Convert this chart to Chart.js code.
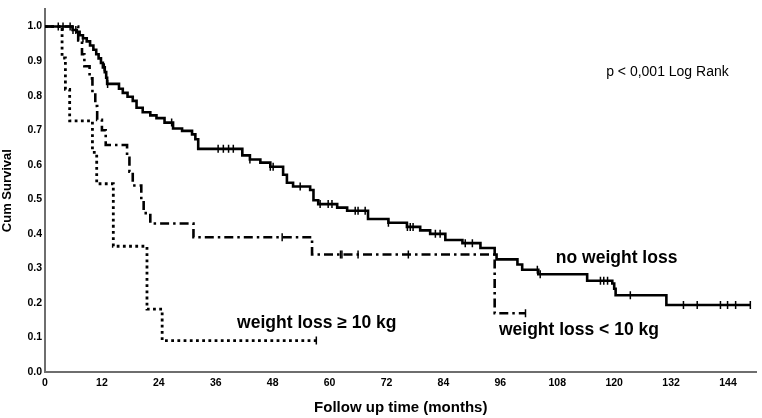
<!DOCTYPE html>
<html>
<head>
<meta charset="utf-8">
<script src="https://cdn.jsdelivr.net/npm/chart.js@4.4.1/dist/chart.umd.min.js"></script>
<style>
html,body{margin:0;padding:0;background:#fff;}
#wrap{width:762px;height:418px;}
</style>
</head>
<body>
<div id="wrap"><canvas id="c" width="762" height="418"></canvas></div>
<script>
// ---- Data ----
const xTicks = [0,12,24,36,48,60,72,84,96,108,120,132,144];
const yTicks = [0,0.1,0.2,0.3,0.4,0.5,0.6,0.7,0.8,0.9,1.0];

// no weight loss: event times (months) and survival after each event
const noLossTimes = [5.8,6.7,7.3,8.0,8.8,9.5,10.2,10.8,11.3,11.8,12.2,12.6,12.9,13.1,15.6,16.4,17.4,18.5,19.3,20.6,22.2,23.5,25.2,27.0,28.9,31.0,31.7,32.3,41.6,43.2,45.4,47.5,50.2,51.0,52.3,55.9,56.6,57.6,61.6,63.7,68.1,72.4,76.3,79.1,81.2,84.4,88.0,91.8,94.8,95.2,99.6,100.6,104.0,114.3,119.6,120.0,120.3,131.0];
const noLossSurv  = [0.99,0.985,0.975,0.966,0.957,0.945,0.933,0.92,0.908,0.895,0.882,0.868,0.852,0.834,0.82,0.808,0.797,0.785,0.765,0.752,0.743,0.735,0.722,0.705,0.698,0.688,0.674,0.646,0.627,0.615,0.606,0.594,0.571,0.548,0.537,0.527,0.497,0.486,0.476,0.467,0.443,0.432,0.42,0.41,0.40,0.382,0.373,0.359,0.34,0.326,0.311,0.296,0.283,0.264,0.256,0.241,0.222,0.194];
const noLossCensor = [2.8,3.8,5.3,5.9,6.5,8.0,12.5,13.2,26.7,36.5,37.6,38.7,39.7,43.2,47.5,48.1,53.8,58.0,59.7,60.5,65.4,66.0,67.5,72.4,76.4,77.0,77.6,82.3,83.3,88.6,90.1,103.8,104.4,117.1,117.8,118.6,123.4,134.6,137.5,142.4,143.9,145.6,148.7];

// weight loss < 10 kg
const smallLossTimes = [7.0,7.8,8.3,9.4,10.0,10.6,11.0,12.0,12.8,17.3,17.8,18.5,20.3,20.8,22.2,31.3,56.3,94.8];
const smallLossSurv  = [0.96,0.92,0.885,0.85,0.81,0.77,0.73,0.70,0.657,0.62,0.58,0.54,0.50,0.46,0.43,0.39,0.34,0.17];
const smallLossCensor = [50.0,62.3,62.6,66.0,76.6,101.3];

// weight loss >= 10 kg
const bigLossTimes = [3.6,4.3,5.2,10.0,10.9,14.4,21.5,24.7];
const bigLossSurv  = [0.909,0.818,0.727,0.636,0.545,0.364,0.182,0.091];
const bigLossCensor = [57.2];

// text annotations (data coordinates)
const noteTexts = ['p < 0,001 Log Rank','no weight loss','weight loss < 10 kg','weight loss \u2265 10 kg'];
const noteX = [118.3,107.7,95.7,40.5];
const noteY = [0.867,0.33,0.121,0.141];
const noteBold = [false,true,true,true];

// ---- helpers ----
function kmPoints(times, surv, censor){
  const pts = [{x:0,y:1}];
  times.forEach((t,i)=>pts.push({x:t,y:surv[i]}));
  const last = Math.max(censor[censor.length-1], times[times.length-1]);
  pts.push({x:last,y:surv[surv.length-1]});
  return pts;
}
function survAt(times, surv, t){
  let s = 1;
  for(let i=0;i<times.length;i++){ if(times[i] <= t) s = surv[i]; }
  return s;
}
function censorPoints(times, surv, censor){
  return censor.map(t=>({x:t,y:survAt(times,surv,t)}));
}

const FONT = "'Liberation Sans', Arial, Helvetica, sans-serif";

const lineBase = {type:'line', borderColor:'#000', backgroundColor:'#000', pointRadius:0, stepped:'before', fill:false, tension:0, borderCapStyle:'butt'};
const censorBase = {type:'scatter', showLine:false, pointStyle:'line', rotation:90, pointRadius:4, borderColor:'#000', backgroundColor:'#000', pointBorderWidth:1.5, borderWidth:1.5};

const notesPlugin = {
  id:'notes',
  afterDraw(chart){
    const ctx = chart.ctx, xs = chart.scales.x, ys = chart.scales.y;
    ctx.save();
    ctx.fillStyle = '#000';
    ctx.textBaseline = 'middle';
    ctx.textAlign = 'left';
    noteTexts.forEach((t,i)=>{
      ctx.font = (noteBold[i] ? 'bold 17.5px ' : '14px ') + FONT;
      ctx.fillText(t, xs.getPixelForValue(noteX[i]), ys.getPixelForValue(noteY[i]));
    });
    ctx.restore();
  }
};

new Chart(document.getElementById('c'), {
  type:'line',
  data:{
    datasets:[
      Object.assign({}, lineBase, {label:'no weight loss', data:kmPoints(noLossTimes,noLossSurv,noLossCensor), borderWidth:2.6}),
      Object.assign({}, censorBase, {label:'no weight loss censored', data:censorPoints(noLossTimes,noLossSurv,noLossCensor)}),
      Object.assign({}, lineBase, {label:'weight loss < 10 kg', data:kmPoints(smallLossTimes,smallLossSurv,smallLossCensor), borderWidth:2.6, borderDash:[9,4,2.5,4]}),
      Object.assign({}, censorBase, {label:'weight loss < 10 kg censored', data:censorPoints(smallLossTimes,smallLossSurv,smallLossCensor)}),
      Object.assign({}, lineBase, {label:'weight loss >= 10 kg', data:kmPoints(bigLossTimes,bigLossSurv,bigLossCensor), borderWidth:2.8, borderDash:[2.8,3.4]}),
      Object.assign({}, censorBase, {label:'weight loss >= 10 kg censored', data:censorPoints(bigLossTimes,bigLossSurv,bigLossCensor)})
    ]
  },
  options:{
    responsive:false,
    animation:false,
    devicePixelRatio:1,
    layout:{padding:{left:0,right:5,top:0,bottom:1}},
    plugins:{legend:{display:false}, tooltip:{enabled:false}},
    scales:{
      x:{
        type:'linear', min:0, max:150,
        grid:{display:false, drawTicks:false, tickLength:0},
        border:{display:true,color:'#6e6e6e',width:2},
        afterBuildTicks(a){ a.ticks = xTicks.map(v=>({value:v})); },
        afterFit(a){ a.height = 45; },
        ticks:{color:'#000', padding:5, maxRotation:0, autoSkip:false, font:{family:FONT,size:10.5,weight:'bold'}},
        title:{display:true, text:'Follow up time (months)', color:'#000', padding:{top:0,bottom:0}, font:{family:FONT,size:15,weight:'bold'}}
      },
      y:{
        type:'linear', min:0, max:1.05,
        grid:{display:false, drawTicks:false, tickLength:0},
        border:{display:true,color:'#6e6e6e',width:2},
        afterBuildTicks(a){ a.ticks = yTicks.map(v=>({value:v})); },
        afterFit(a){ a.width = 45; },
        ticks:{color:'#000', padding:3, autoSkip:false, font:{family:FONT,size:10.5,weight:'bold'}, callback:v=>Number(v).toFixed(1)},
        title:{display:true, text:'Cum Survival', color:'#000', padding:{top:0,bottom:0}, font:{family:FONT,size:13,weight:'bold'}}
      }
    }
  },
  plugins:[notesPlugin]
});
</script>
</body>
</html>
